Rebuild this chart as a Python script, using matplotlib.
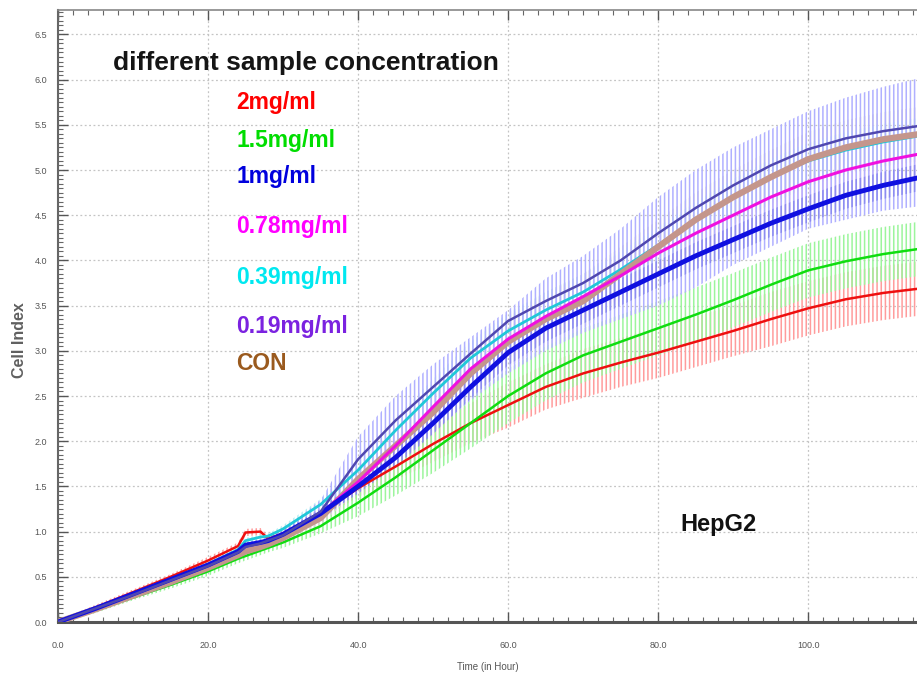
import matplotlib
matplotlib.use("Agg")
import matplotlib.pyplot as plt
from matplotlib.ticker import MultipleLocator, FormatStrFormatter
import numpy as np

# ---------------- data ----------------
time_h = [0, 5, 10, 15, 20, 24, 25, 27, 28, 30, 35, 40, 45, 50, 55, 60,
          65, 70, 75, 80, 85, 90, 95, 100, 105, 110, 115]

ci_2mg = [0, 0.16, 0.33, 0.50, 0.68, 0.84, 0.99, 1.00, 0.92, 0.98, 1.20, 1.48, 1.72, 1.97,
          2.20, 2.40, 2.60, 2.75, 2.87, 2.98, 3.10, 3.22, 3.35, 3.47, 3.57, 3.64, 3.69]
ci_1_5mg = [0, 0.13, 0.27, 0.41, 0.56, 0.70, 0.73, 0.79, 0.82, 0.88, 1.06, 1.32, 1.60, 1.90,
            2.20, 2.50, 2.75, 2.95, 3.10, 3.25, 3.40, 3.56, 3.73, 3.89, 3.99, 4.07, 4.13]
ci_1mg = [0, 0.15, 0.31, 0.47, 0.63, 0.78, 0.85, 0.88, 0.90, 0.97, 1.20, 1.50, 1.82, 2.20,
          2.60, 2.98, 3.25, 3.45, 3.65, 3.85, 4.05, 4.23, 4.41, 4.57, 4.72, 4.83, 4.92]
ci_0_78mg = [0, 0.15, 0.31, 0.47, 0.63, 0.78, 0.84, 0.88, 0.90, 0.97, 1.20, 1.55, 1.95, 2.38,
             2.80, 3.13, 3.38, 3.60, 3.83, 4.08, 4.30, 4.50, 4.70, 4.87, 5.00, 5.10, 5.18]
ci_0_39mg = [0, 0.15, 0.31, 0.47, 0.64, 0.80, 0.90, 0.94, 0.95, 1.03, 1.30, 1.68, 2.12, 2.53,
             2.92, 3.22, 3.45, 3.65, 3.90, 4.17, 4.45, 4.70, 4.92, 5.10, 5.22, 5.31, 5.38]
ci_0_19mg = [0, 0.15, 0.30, 0.46, 0.62, 0.77, 0.83, 0.87, 0.90, 0.96, 1.22, 1.80, 2.23, 2.60,
             2.97, 3.33, 3.55, 3.75, 4.00, 4.30, 4.58, 4.83, 5.05, 5.23, 5.35, 5.43, 5.49]
ci_con = [0, 0.14, 0.29, 0.44, 0.60, 0.74, 0.78, 0.83, 0.86, 0.93, 1.15, 1.58, 1.95, 2.32,
          2.75, 3.10, 3.35, 3.55, 3.85, 4.15, 4.45, 4.70, 4.92, 5.12, 5.25, 5.34, 5.40]

# standard deviations (error bars)
sd_2mg = [0.02, 0.03, 0.03, 0.03, 0.04, 0.04, 0.04, 0.04, 0.04, 0.04, 0.06, 0.10, 0.15, 0.20,
          0.22, 0.25, 0.25, 0.27, 0.27, 0.28, 0.28, 0.28, 0.30, 0.30, 0.30, 0.30, 0.30]
sd_1_5mg = [0.02, 0.03, 0.03, 0.04, 0.05, 0.05, 0.05, 0.05, 0.05, 0.06, 0.08, 0.15, 0.20, 0.25,
            0.28, 0.30, 0.30, 0.30, 0.30, 0.30, 0.30, 0.30, 0.30, 0.30, 0.30, 0.30, 0.30]
sd_1mg = [0.02, 0.02, 0.02, 0.03, 0.03, 0.03, 0.03, 0.03, 0.03, 0.04, 0.05, 0.08, 0.10, 0.12,
          0.13, 0.14, 0.15, 0.15, 0.15, 0.15, 0.15, 0.15, 0.15, 0.15, 0.15, 0.15, 0.15]
sd_0_78mg = [0.02, 0.02, 0.02, 0.03, 0.03, 0.03, 0.03, 0.03, 0.03, 0.04, 0.06, 0.10, 0.15, 0.18,
             0.20, 0.22, 0.24, 0.25, 0.25, 0.25, 0.25, 0.25, 0.25, 0.25, 0.25, 0.25, 0.25]
sd_0_39mg = [0.02, 0.02, 0.02, 0.03, 0.03, 0.03, 0.03, 0.03, 0.03, 0.04, 0.06, 0.10, 0.14, 0.16,
             0.18, 0.20, 0.20, 0.20, 0.20, 0.20, 0.20, 0.20, 0.20, 0.20, 0.20, 0.20, 0.20]
sd_con = [0.02, 0.02, 0.03, 0.03, 0.03, 0.03, 0.03, 0.03, 0.03, 0.04, 0.08, 0.12, 0.18, 0.22,
          0.25, 0.28, 0.30, 0.30, 0.30, 0.30, 0.30, 0.30, 0.30, 0.30, 0.30, 0.30, 0.30]
# asymmetric band of the 0.19 mg/ml series
lo_0_19mg = [0, 0.13, 0.28, 0.43, 0.58, 0.72, 0.78, 0.82, 0.85, 0.90, 1.12, 1.45, 1.75, 2.10,
             2.45, 2.75, 3.00, 3.20, 3.35, 3.50, 3.70, 3.95, 4.15, 4.35, 4.45, 4.55, 4.60]
hi_0_19mg = [0, 0.17, 0.32, 0.49, 0.66, 0.82, 0.88, 0.92, 0.95, 1.02, 1.35, 2.05, 2.50, 2.85,
             3.15, 3.45, 3.80, 4.05, 4.35, 4.70, 5.00, 5.25, 5.45, 5.65, 5.80, 5.92, 6.02]

labels = ["2mg/ml", "1.5mg/ml", "1mg/ml", "0.78mg/ml", "0.39mg/ml", "0.19mg/ml", "CON"]
label_colors = ["#ff0000", "#00dd00", "#0000dd", "#ff00ff", "#00e8f0", "#7b22e0", "#9a5a1e"]

# ---------------- figure ----------------
plt.rcParams['font.family'] = ['Liberation Sans', 'DejaVu Sans']
plt.rcParams['hatch.linewidth'] = 1.1

fig = plt.figure(figsize=(9.17, 6.81), dpi=100)
ax = fig.add_axes([58 / 917, 1 - 622 / 681, 1 - 58 / 917, (622 - 10) / 681])

t = np.array(time_h)

def band(lo, hi, color, z):
    ax.fill_between(t, lo, hi, facecolor='none', edgecolor=color,
                    linewidth=0, hatch='||||', zorder=z)

band(np.array(ci_2mg) - sd_2mg, np.array(ci_2mg) + sd_2mg, '#ff9c9c', 1)
band(np.array(ci_1_5mg) - sd_1_5mg, np.array(ci_1_5mg) + sd_1_5mg, '#9cf59c', 1.1)
band(np.array(ci_con) - sd_con, np.array(ci_con) + sd_con, '#dcd6d6', 1.2)
band(np.array(ci_0_78mg) - sd_0_78mg, np.array(ci_0_78mg) + sd_0_78mg, '#f8c0f0', 1.3)
band(np.array(ci_0_39mg) - sd_0_39mg, np.array(ci_0_39mg) + sd_0_39mg, '#b8eef2', 1.4)
band(lo_0_19mg, hi_0_19mg, '#b0b0ff', 1.5)
band(np.array(ci_1mg) - sd_1mg, np.array(ci_1mg) + sd_1mg, '#8c8cf0', 1.6)

line_style = [
    (ci_2mg, '#ee1010', 1.8, 3.0),
    (ci_1_5mg, '#10dd10', 1.8, 3.1),
    (ci_0_39mg, '#20c8d8', 2.0, 3.2),
    (ci_con, '#c4968c', 4.5, 3.3),
    (ci_0_78mg, '#f010e0', 2.2, 3.4),
    (ci_1mg, '#1010e0', 3.5, 3.5),
    (ci_0_19mg, '#5048b0', 1.8, 3.6),
]
for y, c, lw, z in line_style:
    ax.plot(t, y, color=c, linewidth=lw, zorder=z, solid_capstyle='round')

ax.set_xlim(0, 114.5)
ax.set_ylim(0, 6.77)

ax.xaxis.set_major_locator(MultipleLocator(20))
ax.xaxis.set_minor_locator(MultipleLocator(2))
ax.yaxis.set_major_locator(MultipleLocator(0.5))
ax.yaxis.set_minor_locator(MultipleLocator(0.05))
ax.xaxis.set_major_formatter(FormatStrFormatter('%.1f'))
ax.yaxis.set_major_formatter(FormatStrFormatter('%.1f'))

ax.tick_params(axis='both', which='major', direction='in', colors='#555555',
               labelsize=6.5, length=7, width=1.0, top=True)
ax.tick_params(axis='both', which='minor', direction='in', colors='#666666',
               length=3.5, width=0.8, top=True)
ax.tick_params(axis='x', which='major', pad=14)
ax.tick_params(axis='y', which='major', pad=8)
for lab in ax.get_xticklabels() + ax.get_yticklabels():
    lab.set_color('#555555')

ax.grid(True, which='major', linestyle=(0, (1.5, 2)), color='#c4c4c4', linewidth=0.9, zorder=0)
ax.set_axisbelow(True)

ax.spines['right'].set_visible(False)
ax.spines['left'].set_color('#666666')
ax.spines['left'].set_linewidth(1.5)
ax.spines['bottom'].set_color('#555555')
ax.spines['bottom'].set_linewidth(2.2)
ax.spines['top'].set_color('#888888')
ax.spines['top'].set_linewidth(1.2)

ax.set_xlabel('Time (in Hour)', fontsize=7, color='#555555', labelpad=8)
fig.text(20 / 917, 1 - 340 / 681, 'Cell Index', rotation=90, fontsize=11.5,
         fontweight='bold', color='#606060', ha='center', va='center')

# annotations
fig.text(113 / 917, 1 - 63 / 681, 'different sample concentration', fontsize=19,
         fontweight='bold', color='#151515', ha='left', va='center')
label_y = [102, 140, 177, 227, 277, 327, 363]
for txt, col, yy in zip(labels, label_colors, label_y):
    fig.text(236 / 917, 1 - yy / 681, txt, fontsize=16.5, fontweight='bold',
             color=col, ha='left', va='center')
fig.text(680 / 917, 1 - 525 / 681, 'HepG2', fontsize=17, fontweight='bold',
         color='#111111', ha='left', va='center')

fig.savefig('out.png', dpi=100)
